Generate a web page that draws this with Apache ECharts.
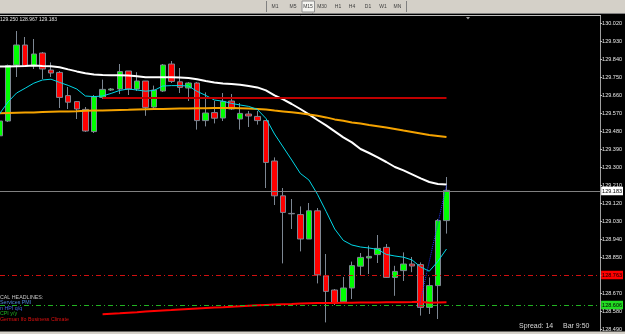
<!DOCTYPE html>
<html><head><meta charset="utf-8">
<script src="https://cdn.jsdelivr.net/npm/echarts@6/dist/echarts.min.js"></script>
<style>html,body{margin:0;padding:0;background:#000;overflow:hidden}#c{width:625px;height:334px}</style>
</head><body><div id="c"></div><script>
// ---- data ----
const opens  = [129.456,129.530,129.810,129.910,129.806,129.870,129.785,129.773,129.657,129.627,129.588,129.477,129.648,129.685,129.690,129.780,129.690,129.730,129.600,129.680,129.815,129.726,129.695,129.720,129.532,129.572,129.545,129.630,129.540,129.565,129.553,129.532,129.330,129.156,129.068,129.062,128.940,129.081,128.756,128.685,128.626,128.695,128.804,128.845,128.862,128.898,128.748,128.782,128.815,128.812,128.598,128.707,129.032];
const closes = [129.530,129.807,129.910,129.806,129.865,129.790,129.770,129.648,129.624,129.590,129.480,129.650,129.688,129.690,129.777,129.690,129.730,129.598,129.685,129.810,129.728,129.698,129.720,129.532,129.570,129.544,129.628,129.590,129.568,129.555,129.532,129.323,129.156,129.073,129.066,128.940,129.081,128.761,128.678,128.620,128.695,128.807,128.848,128.853,128.893,128.748,128.778,128.815,128.805,128.598,128.707,129.032,129.183];
const highs  = [129.540,129.812,129.980,129.950,129.940,129.875,129.823,129.780,129.700,129.630,129.600,129.660,129.737,129.695,129.815,129.780,129.774,129.730,129.707,129.815,129.830,129.795,129.725,129.725,129.673,129.630,129.670,129.665,129.620,129.580,129.580,129.535,129.348,129.195,129.140,129.103,129.120,129.095,128.865,128.690,128.750,128.827,128.870,128.907,128.960,128.915,128.806,128.873,128.850,128.823,128.748,129.040,129.250];
const lows   = [129.440,129.525,129.750,129.800,129.790,129.740,129.750,129.595,129.590,129.540,129.475,129.470,129.640,129.680,129.665,129.660,129.680,129.556,129.590,129.675,129.720,129.670,129.630,129.487,129.503,129.518,129.530,129.585,129.487,129.500,129.512,129.195,129.110,128.818,128.990,128.878,128.940,128.718,128.523,128.610,128.620,128.640,128.760,128.765,128.820,128.745,128.656,128.730,128.774,128.557,128.565,128.540,128.967];
const whiteMA = [129.802,129.803,129.804,129.805,129.807,129.805,129.804,129.799,129.788,129.778,129.769,129.763,129.760,129.759,129.759,129.758,129.754,129.749,129.749,129.749,129.749,129.748,129.745,129.739,129.730,129.723,129.718,129.715,129.711,129.705,129.698,129.683,129.658,129.638,129.615,129.590,129.563,129.535,129.508,129.478,129.448,129.423,129.390,129.370,129.348,129.325,129.300,129.283,129.263,129.243,129.225,129.215,129.212];
const cyanMA  = [129.565,129.625,129.670,129.694,129.719,129.735,129.739,129.723,129.708,129.690,129.655,129.652,129.655,129.668,129.683,129.690,129.685,129.679,129.683,129.705,129.707,129.707,129.705,129.678,129.658,129.635,129.629,129.618,129.610,129.603,129.588,129.543,129.465,129.400,129.335,129.268,129.235,129.163,129.078,128.990,128.933,128.910,128.900,128.895,128.888,128.863,128.855,128.849,128.835,128.800,128.779,128.828,128.890];
const orangeMA = [129.568,129.570,129.571,129.572,129.573,129.575,129.576,129.577,129.578,129.579,129.581,129.582,129.583,129.584,129.585,129.586,129.588,129.589,129.590,129.590,129.591,129.592,129.593,129.594,129.594,129.595,129.595,129.595,129.594,129.592,129.590,129.587,129.582,129.578,129.574,129.569,129.563,129.556,129.548,129.538,129.531,129.523,129.517,129.510,129.504,129.497,129.490,129.482,129.475,129.468,129.460,129.455,129.450];
const supportStart = 12;
const supportLine = [128.5635,128.566,128.5685,128.5715,128.574,128.577,128.580,128.5825,128.585,128.588,128.5905,128.593,128.5955,128.5975,128.599,128.601,128.6035,128.606,128.6085,128.6105,128.612,128.6135,128.615,128.617,128.6185,128.6195,128.620,128.6205,128.621,128.6215,128.622,128.6225,128.623,128.6235,128.624,128.624,128.6245,128.626,128.621,128.623,128.6235];
const levelLine = {from: 12, to: 52, price: 129.645};
const trendLine = [[48.8, 128.598], [52.0, 129.21]];
const bidPrice = 129.183, redLevel = 128.763, greenLevel = 128.606;
const priceTicks = [128.490,128.580,128.670,128.760,128.850,128.940,129.030,129.120,129.210,129.300,129.390,129.480,129.570,129.660,129.750,129.840,129.930,130.020];
const header = '129.250 128.967 129.183';
const headlines = [
  {t: 'CAL HEADLINES:', c: '#c8c8c8'},
  {t: 'Services PMI', c: '#4f86d9'},
  {t: 'n HPI q/q', c: '#4169e1'},
  {t: 'CPI y/y', c: '#22b222'},
  {t: 'German Ifo Business Climate', c: '#e01010'}
];
const tfButtons = ['M1','M5','M15','M30','H1','H4','D1','W1','MN'];

const FONT = 'Liberation Sans';
const chart = echarts.init(document.getElementById('c'), null, {renderer: 'canvas', width: 625, height: 334});

const graphics = [
  {type: 'rect', shape: {x: 0, y: 0, width: 625, height: 13}, style: {fill: '#d4d0c8'}, z: 10},
  {type: 'line', shape: {x1: 0, y1: 13.5, x2: 625, y2: 13.5}, style: {stroke: '#808080', lineWidth: 1}, z: 10},
  {type: 'line', shape: {x1: 0, y1: 15.5, x2: 601, y2: 15.5}, style: {stroke: '#c0c0c0', lineWidth: 1}, z: 10},
  {type: 'rect', shape: {x: 0, y: 331.5, width: 625, height: 3}, style: {fill: '#d4d0c8'}, z: 10},
  {type: 'line', shape: {x1: 266.5, y1: 1, x2: 266.5, y2: 12}, style: {stroke: '#808080'}, z: 11},
  {type: 'line', shape: {x1: 406.5, y1: 1, x2: 406.5, y2: 12}, style: {stroke: '#808080'}, z: 11},
  {type: 'rect', shape: {x: 302, y: 1, width: 12.5, height: 11}, style: {fill: '#f4f4f0', stroke: '#909090'}, z: 11},
  {type: 'polygon', shape: {points: [[466, 17], [470, 17], [468, 19.5]]}, style: {fill: '#a0a0a0'}, z: 11},
  {type: 'text', x: 0, y: 19.5, style: {text: header, fill: '#e0e0e0', font: '5px ' + FONT, verticalAlign: 'middle'}, z: 11},
  {type: 'text', x: 519, y: 326, style: {text: 'Spread: 14', fill: '#d8d8d8', font: '7px ' + FONT, verticalAlign: 'middle'}, z: 11},
  {type: 'text', x: 563, y: 326, style: {text: 'Bar 9:50', fill: '#d8d8d8', font: '7px ' + FONT, verticalAlign: 'middle'}, z: 11}
];
const btnX = [275, 293, 308, 322, 338, 352, 368, 383, 397.5];
tfButtons.forEach((b, i) => graphics.push({type: 'text', x: btnX[i], y: 6.5, style: {text: b, fill: '#404040', font: '5px ' + FONT, align: 'center', verticalAlign: 'middle'}, z: 12}));
const hlY = [297.3, 302.8, 308.3, 314, 319.8];
headlines.forEach((h, i) => graphics.push({type: 'text', x: 0, y: hlY[i], style: {text: h.t, fill: h.c, font: '5.3px ' + FONT, verticalAlign: 'middle'}, z: 11}));

function lvl(v, color, type, bg, fg) {
  return {yAxis: v, lineStyle: {color: color, type: type, width: 1},
    label: {show: true, position: 'end', distance: 1, formatter: v.toFixed(3), backgroundColor: bg, color: fg,
      fontSize: 5.5, fontFamily: FONT, padding: [1.5, 1, 1, 1]}};
}

chart.setOption({
  backgroundColor: '#000',
  animation: false,
  graphic: graphics,
  grid: {left: 0, top: 16, width: 601, height: 315, containLabel: false},
  xAxis: {type: 'value', min: 0.07, max: 69.87, show: false},
  yAxis: {type: 'value', position: 'right', min: 128.48, max: 130.055, scale: true,
    axisLine: {show: true, lineStyle: {color: '#a0a0a0', width: 1}},
    axisTick: {show: true, length: 2, customValues: priceTicks, lineStyle: {color: '#c0c0c0'}},
    axisLabel: {show: true, customValues: priceTicks, color: '#e8e8e8', fontSize: 5.5, fontFamily: FONT, margin: 2,
      formatter: v => v.toFixed(3)},
    splitLine: {show: false}},
  series: [
    {type: 'candlestick', barWidth: 6, clip: true,
      data: opens.map((o, i) => [i, o, closes[i], lows[i], highs[i]]),
      encode: {x: 0, y: [1, 2, 3, 4]},
      itemStyle: {color: '#00ff00', color0: '#ff0000', borderColor: '#7d8793', borderColor0: '#7d8793', borderWidth: 1},
      markLine: {silent: true, symbol: 'none', animation: false,
        data: [lvl(bidPrice, '#808080', 'solid', '#ffffff', '#000'),
               lvl(redLevel, '#d01010', [5, 3, 1, 3], '#ff0000', '#000'),
               lvl(greenLevel, '#22b222', [5, 3, 1, 3], '#22dd22', '#000')]}},
    {type: 'line', data: whiteMA.map((v, i) => [i, v]), symbol: 'none', lineStyle: {color: '#ffffff', width: 2}},
    {type: 'line', data: orangeMA.map((v, i) => [i, v]), symbol: 'none', lineStyle: {color: '#f5a300', width: 2}},
    {type: 'line', data: cyanMA.map((v, i) => [i, v]), symbol: 'none', lineStyle: {color: '#00d8e8', width: 1}},
    {type: 'line', data: [[levelLine.from, levelLine.price], [levelLine.to, levelLine.price]], symbol: 'none', lineStyle: {color: '#c00000', width: 2}},
    {type: 'line', data: supportLine.map((v, i) => [i + supportStart, v]), symbol: 'none', lineStyle: {color: '#ff0000', width: 2}},
    {type: 'line', data: trendLine, symbol: 'none', lineStyle: {color: '#2030ff', width: 1, type: 'dotted'}}
  ]
});
</script></body></html>
